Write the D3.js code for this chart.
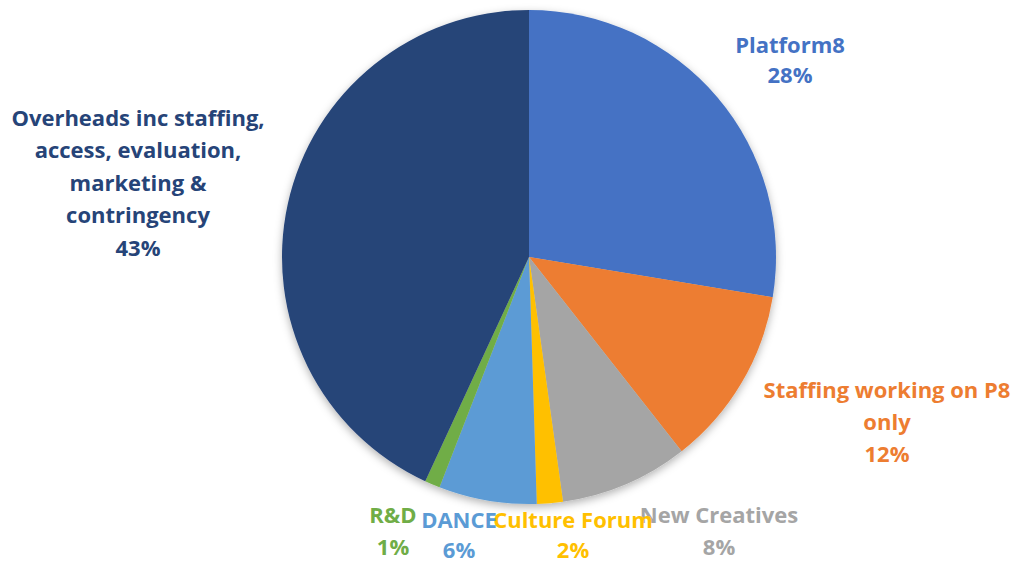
<!DOCTYPE html>
<html>
<head>
<meta charset="utf-8">
<script src="https://cdn.jsdelivr.net/npm/d3@7"></script>
<style>
  html, body { margin: 0; padding: 0; background: #fff; }
  svg { display: block; }
</style>
</head>
<body>
<svg id="chart" width="1017" height="564"></svg>
<script>
// ---- data ----
const categories = ["Platform8", "Staffing working on P8 only", "New Creatives", "Culture Forum", "DANCE", "R&D",
  "Overheads inc staffing, access, evaluation, marketing & contringency"];
const values = [27.6, 11.8, 8.4, 1.7, 6.4, 1.0, 43.1];
const colors = ["#4472C4", "#ED7D31", "#A5A5A5", "#FFC000", "#5B9BD5", "#70AD47", "#264478"];
const labelLines = [
  ["Platform8"],
  ["Staffing working on P8", "only"],
  ["New Creatives"],
  ["Culture Forum"],
  ["DANCE"],
  ["R&D"],
  ["Overheads inc staffing,", "access, evaluation,", "marketing &", "contringency"]
];

// ---- layout (label anchor points: center x, first baseline y, line step) ----
const labelAnchors = [[790, 53, 30], [887, 398, 32], [719, 523, 32], [573, 528, 29.5], [459, 528, 29.5], [393, 523, 32], [138, 126, 32.4]];

const svg = d3.select("#chart");
const cx = 529, cy = 257, r = 247;
const fmt = d3.format(".0%");
const total = d3.sum(values);

const defs = svg.append("defs");
const f = defs.append("filter").attr("id", "shadow").attr("x", "-20%").attr("y", "-20%").attr("width", "140%").attr("height", "140%");
f.append("feDropShadow").attr("dx", 0).attr("dy", 3).attr("stdDeviation", 4).attr("flood-color", "#000").attr("flood-opacity", 0.3);

const pie = d3.pie().sort(null).value(d => d)(values);
const arc = d3.arc().innerRadius(0).outerRadius(r);

const g = svg.append("g").attr("transform", `translate(${cx},${cy})`).attr("filter", "url(#shadow)");
g.selectAll("path").data(pie).join("path")
  .attr("d", arc)
  .attr("fill", (d, i) => colors[i]);

const labels = svg.append("g");
categories.forEach((c, i) => {
  const lines = labelLines[i].concat([fmt(values[i] / total)]);
  const [x, y, step] = labelAnchors[i];
  const t = labels.append("text")
    .attr("text-anchor", "middle")
    .attr("fill", colors[i])
    .style("font-family", "'Open Sans', Lato, sans-serif")
    .style("font-weight", "bold")
    .style("font-size", "22px");
  lines.forEach((l, k) => {
    t.append("tspan").attr("x", x).attr("y", y + k * step).text(l);
  });
});
</script>
</body>
</html>
